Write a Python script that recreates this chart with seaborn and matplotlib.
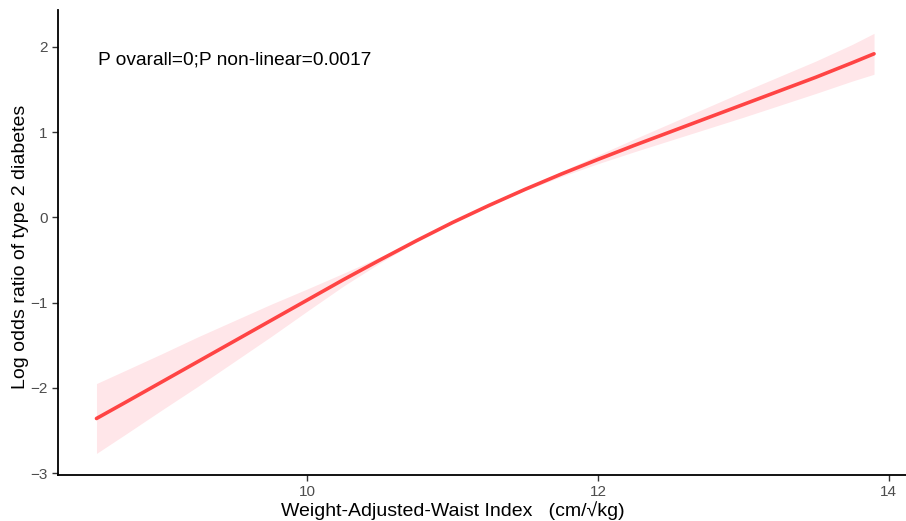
import matplotlib
matplotlib.use("Agg")
import matplotlib.pyplot as plt
import pandas as pd
import seaborn as sns

# Restricted cubic spline estimate: WWI vs log odds ratio of type 2 diabetes
wwi = [8.55, 8.75, 9.0, 9.25, 9.5, 9.75, 10.0, 10.25, 10.5, 10.75, 11.0, 11.25,
       11.5, 11.75, 12.0, 12.25, 12.5, 12.75, 13.0, 13.25, 13.5, 13.75, 13.9]
log_or = [-2.36, -2.17, -1.93, -1.69, -1.45, -1.21, -0.97, -0.73, -0.50, -0.275, -0.06, 0.14,
          0.33, 0.51, 0.68, 0.845, 1.005, 1.165, 1.325, 1.485, 1.645, 1.815, 1.92]
ci_low = [-2.77, -2.545, -2.26, -1.98, -1.69, -1.40, -1.10, -0.805, -0.535, -0.287, -0.063, 0.137,
          0.315, 0.48, 0.63, 0.77, 0.905, 1.04, 1.175, 1.315, 1.455, 1.60, 1.68]
ci_high = [-1.95, -1.795, -1.60, -1.40, -1.21, -1.02, -0.84, -0.655, -0.465, -0.263, -0.057, 0.143,
           0.345, 0.54, 0.73, 0.92, 1.105, 1.29, 1.475, 1.655, 1.835, 2.03, 2.16]

x_ticks = [10, 12, 14]
y_ticks = [-3, -2, -1, 0, 1, 2]
annotation = "P ovarall=0;P non-linear=0.0017"

df = pd.DataFrame({"wwi": wwi, "log_or": log_or, "lo": ci_low, "hi": ci_high})

sns.set_theme(style="white")
plt.rcParams["font.family"] = ["Liberation Sans", "DejaVu Sans"]

fig = plt.figure(figsize=(9.06, 5.21), dpi=100)
ax = fig.add_axes([0.0635, 0.0883, 0.9365, 0.8925])

ax.fill_between(df["wwi"], df["lo"], df["hi"], color="#FFE6E9", linewidth=0)
sns.lineplot(data=df, x="wwi", y="log_or", ax=ax, color="#FF4444", linewidth=2.6)

ax.set_xlim(8.282, 14.12)
ax.set_ylim(-3.023, 2.434)
ax.set_xticks(x_ticks)
ax.set_yticks(y_ticks)
ax.set_xticklabels([str(t) for t in x_ticks])
ax.set_yticklabels([str(t).replace("-", "\u2212") for t in y_ticks])

for side in ["top", "right"]:
    ax.spines[side].set_visible(False)
for side in ["left", "bottom"]:
    ax.spines[side].set_color("black")
    ax.spines[side].set_linewidth(1.3)

ax.tick_params(axis="both", which="major", length=4, width=1, color="#333333",
               labelcolor="#4D4D4D", labelsize=11, pad=3, bottom=True, left=True)

ax.set_xlabel("Weight-Adjusted-Waist Index   (cm/\u221akg)", fontsize=14, color="black")
ax.set_ylabel("Log odds ratio of type 2 diabetes", fontsize=14, color="black")
ax.xaxis.set_label_coords((453 - 57.5) / (906 - 57.5), -0.056)
ax.yaxis.set_label_coords(-0.0336, 0.49)

ax.text(8.56, 1.85, annotation, fontsize=13.8, color="black", ha="left", va="center")

fig.savefig("out.png", dpi=100)
